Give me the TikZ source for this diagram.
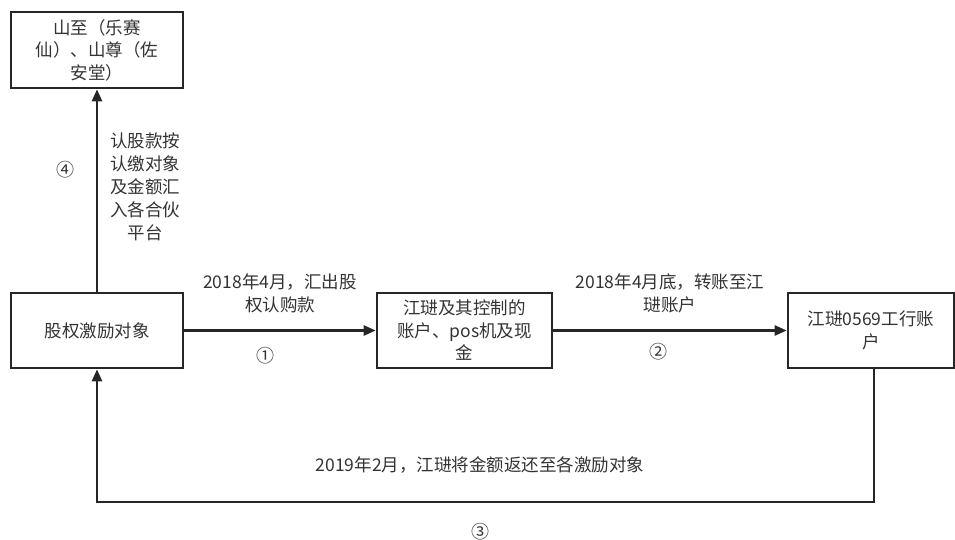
\documentclass[tikz,border=0pt]{standalone}
\usepackage{fontspec}
\setmainfont{Noto Sans CJK SC}
\usetikzlibrary{arrows.meta}
\definecolor{txt}{HTML}{333333}
\definecolor{ln}{HTML}{262626}
\begin{document}
\begin{tikzpicture}[x=1pt,y=-1pt,
  box/.style={draw=ln,line width=2.6pt,minimum height=75pt,inner sep=0pt,align=center,text=txt,font=\fontsize{17.5}{22.5}\selectfont},
  lbl/.style={align=center,text=txt,font=\fontsize{17.5}{23}\selectfont,inner sep=0pt},
  num/.style={text=txt,font=\fontsize{18}{18}\selectfont,inner sep=0pt},
  conn/.style={draw=ln,line width=2.4pt,-{Triangle[length=12pt,width=10pt]}}]
\useasboundingbox (0,0) rectangle (955,540);
\node[box,minimum width=172pt,minimum height=76pt] (top) at (97,50) {山至（乐赛\\仙）、山尊（佐\\安堂）};
\node[box,minimum width=172pt] (inc) at (97,330.5) {股权激励对象};
\node[box,minimum width=175pt] (mid) at (464.5,330.5) {江琎及其控制的\\账户、pos机及现\\金};
\node[box,minimum width=166pt] (acc) at (871,330.5) {江琎0569工行账\\户};
\coordinate (c1) at (874,502);
\coordinate (c2) at (97,502);
\draw[conn] (inc.north) -- (top.south);
\draw[conn] (inc.east) -- (mid.west);
\draw[conn] (mid.east) -- (acc.west);
\draw[conn] (acc.south -| c1) -- (c1) -- (c2) -- (inc.south);
\node[lbl] (l4) at (145,187) {认股款按\\认缴对象\\及金额汇\\入各合伙\\平台};
\node[num] (n4) at (65,170) {④};
\node[lbl] (l1) at (280,293) {2018年4月，汇出股\\权认购款};
\node[num] (n1) at (265,356) {①};
\node[lbl] (l2) at (670,293) {2018年4月底，转账至江\\琎账户};
\node[num] (n2) at (658,352) {②};
\node[lbl] (l3) at (480,465) {2019年2月，江琎将金额返还至各激励对象};
\node[num] (n3) at (480,532) {③};
\end{tikzpicture}
\end{document}
